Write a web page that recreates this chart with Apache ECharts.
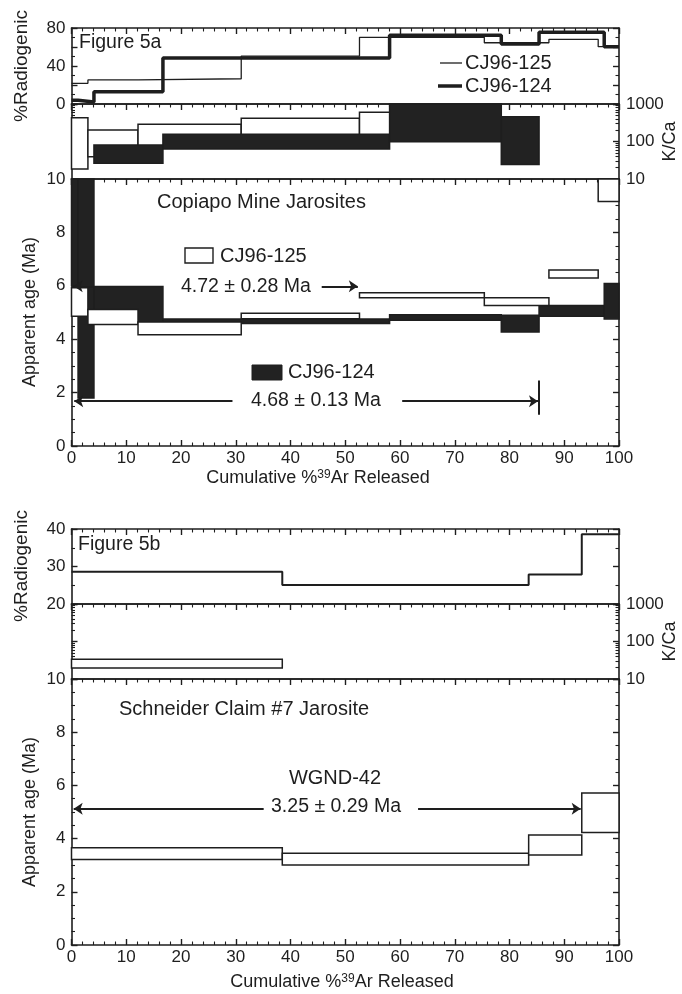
<!DOCTYPE html>
<html>
<head>
<meta charset="utf-8">
<script src="https://cdn.jsdelivr.net/npm/echarts@6/dist/echarts.min.js"></script>
<style>
  html, body { margin: 0; padding: 0; background: #fff; }
  #chart { width: 682px; height: 994px; }
</style>
</head>
<body>
<div id="chart"></div>
<script>
// Figure 5a, CJ96-125: step edges (cumulative %39Ar) and values per step
const stepsA125 = [0, 3.0, 12.15, 31.0, 52.6, 75.4, 87.2, 96.2, 100];
const ageA125Lo = [4.86, 4.55, 4.17, 4.77, 5.55, 5.26, 6.29, 9.16];
const ageA125Hi = [5.93, 5.11, 4.64, 4.97, 5.74, 5.55, 6.59, 12];
const radA125 = [21.8, 25.3, 26.6, 50.5, 70.2, 64.5, 68.1, 60.3];
const kcaA125Lo = [18.5, 39, 66, 120, 130, null, null, null];
const kcaA125Hi = [431, 203, 287, 415, 600, null, null, null];

// Figure 5a, CJ96-124
const stepsA124 = [0, 1.2, 4.1, 16.7, 58.1, 78.5, 85.4, 97.3, 100];
const ageA124Lo = [6.0, 1.8, 4.62, 4.59, 4.71, 4.27, 4.86, 4.76];
const ageA124Hi = [12, 12, 5.97, 4.76, 4.92, 4.90, 5.26, 6.09];
const radA124 = [4, 2, 13, 48.5, 72.5, 63.2, 75.5, 60.3];
const kcaA124Lo = [null, null, 26.2, 63, 99, 24.5, null, null];
const kcaA124Hi = [null, null, 80.7, 155, 1100, 458, null, null];

// Figure 5b, WGND-42
const stepsB = [0, 38.5, 83.5, 93.2, 100];
const ageBLo = [3.21, 3.01, 3.38, 4.23];
const ageBHi = [3.66, 3.45, 4.14, 5.71];
const radB = [28.6, 25.1, 27.9, 38.6];
const kcaBLo = [19.5, null, null, null];
const kcaBHi = [33.6, null, null, null];

// plateau arrows: [fromX, toX, age]
const arrowsA = [[4.1, 0.4, 5.98], [45.7, 52.3, 5.98], [29.4, 0.5, 1.68], [60.4, 85.2, 1.68]];
const plateauBarA = [85.4, 1.17, 2.45];
const arrowsB = [[35.1, 0.4, 5.12], [63.3, 93.0, 5.12]];

const xTicks = { min: 0, max: 100, interval: 10 };

const INK = '#1e1e1e';
const FONT = 'Liberation Sans, Arial, sans-serif';

function boxes(steps, lo, hi) {
  const out = [];
  for (let i = 0; i < lo.length; i++) {
    if (lo[i] == null) continue;
    out.push([steps[i], steps[i + 1], lo[i], hi[i]]);
  }
  return out;
}

function stepLine(steps, vals) {
  const out = [];
  vals.forEach((v, i) => { out.push([steps[i], v], [steps[i + 1], v]); });
  return out;
}

function boxRender(fill) {
  return function (params, api) {
    const a = api.coord([api.value(0), api.value(3)]);
    const b = api.coord([api.value(1), api.value(2)]);
    const cs = params.coordSys;
    const shape = echarts.graphic.clipRectByRect(
      { x: a[0], y: a[1], width: b[0] - a[0], height: b[1] - a[1] },
      { x: cs.x, y: cs.y, width: cs.width, height: cs.height }
    );
    return shape && { type: 'rect', shape: shape, style: { fill: fill, stroke: INK, lineWidth: 1.5 } };
  };
}

function boxSeries(g, data, fill) {
  return {
    type: 'custom', xAxisIndex: 2 * g, yAxisIndex: 2 * g, silent: true,
    renderItem: boxRender(fill), data: data,
    encode: { x: [0, 1], y: [2, 3] }
  };
}

function lineSeries(g, data, width) {
  return {
    type: 'line', xAxisIndex: 2 * g, yAxisIndex: 2 * g, data: data, symbol: 'none',
    silent: true, lineStyle: { color: INK, width: width }
  };
}

function arrowSeries(g, list) {
  return {
    type: 'lines', coordinateSystem: 'cartesian2d', xAxisIndex: 2 * g, yAxisIndex: 2 * g,
    symbol: ['none', 'arrow'], symbolSize: 9, silent: true,
    lineStyle: { color: INK, width: 2, opacity: 1 },
    data: list.map(a => ({ coords: [[a[0], a[2]], [a[1], a[2]]] }))
  };
}

const L = 71.5, W = 547.5;
const grids = [
  { left: L, width: W, top: 28, height: 76 },   // 5a %Radiogenic
  { left: L, width: W, top: 104, height: 75 },  // 5a K/Ca
  { left: L, width: W, top: 179, height: 267 }, // 5a age
  { left: L, width: W, top: 529, height: 75 },  // 5b %Radiogenic
  { left: L, width: W, top: 604, height: 75 },  // 5b K/Ca
  { left: L, width: W, top: 679, height: 266 }  // 5b age
];
const kinds = ['radA', 'kca', 'age', 'radB', 'kca', 'age'];

const axisLine = { show: true, onZero: false, lineStyle: { color: INK, width: 1.6 } };
const labelStyle = { color: INK, fontSize: 17, fontFamily: FONT };
const majorTick = { show: true, inside: true, length: 6, lineStyle: { color: INK, width: 1.4 } };
const minorTick = n => ({ show: true, splitNumber: n, length: 3.5, lineStyle: { color: INK, width: 1.1 } });

const xAxes = [], yAxes = [];
grids.forEach((g, i) => {
  const isAge = kinds[i] === 'age';
  ['bottom', 'top'].forEach(pos => {
    const ticks = pos === 'top' || isAge;
    xAxes.push(Object.assign({
      type: 'value', gridIndex: i, position: pos,
      axisLine: axisLine,
      axisTick: Object.assign({}, majorTick, { show: ticks }),
      minorTick: Object.assign(minorTick(5), { show: ticks }),
      splitLine: { show: false },
      axisLabel: Object.assign({ show: isAge && pos === 'bottom', margin: 4 }, labelStyle)
    }, xTicks));
  });
  ['left', 'right'].forEach(pos => {
    const k = kinds[i];
    const ax = {
      gridIndex: i, position: pos, axisLine: axisLine,
      axisTick: majorTick,
      splitLine: { show: false },
      axisLabel: Object.assign({ show: false, margin: pos === 'left' ? 6 : 7 }, labelStyle)
    };
    if (k === 'kca') {
      Object.assign(ax, { type: 'log', logBase: 10, min: 10, max: 1000 });
      ax.axisLabel.show = pos === 'right';
      ax.axisLabel.formatter = v => String(Math.round(v));
      ax.minorTick = minorTick(9);
    } else if (k === 'age') {
      Object.assign(ax, { type: 'value', min: 0, max: 10, interval: 2 });
      ax.axisLabel.show = pos === 'left';
      ax.minorTick = minorTick(4);
    } else if (k === 'radA') {
      Object.assign(ax, { type: 'value', min: 0, max: 80, interval: 20 });
      ax.axisLabel.show = pos === 'left';
      ax.axisLabel.formatter = v => (v % 40 === 0 ? String(v) : '');
      ax.minorTick = minorTick(2);
    } else {
      Object.assign(ax, { type: 'value', min: 20, max: 40, interval: 10 });
      ax.axisLabel.show = pos === 'left';
      ax.minorTick = minorTick(2);
    }
    yAxes.push(ax);
  });
});

const series = [
  // 5a %Radiogenic
  lineSeries(0, stepLine(stepsA125, radA125), 1.3),
  lineSeries(0, stepLine(stepsA124, radA124), 3.5),
  // 5a K/Ca: open boxes under filled ones
  boxSeries(1, boxes(stepsA125, kcaA125Lo, kcaA125Hi), '#fff'),
  boxSeries(1, boxes(stepsA124, kcaA124Lo, kcaA124Hi), '#222'),
  // 5a age: filled boxes under open ones
  boxSeries(2, boxes(stepsA124, ageA124Lo, ageA124Hi), '#222'),
  boxSeries(2, boxes(stepsA125, ageA125Lo, ageA125Hi), '#fff'),
  arrowSeries(2, arrowsA),
  {
    type: 'lines', coordinateSystem: 'cartesian2d', xAxisIndex: 4, yAxisIndex: 4, silent: true,
    lineStyle: { color: INK, width: 2, opacity: 1 },
    data: [{ coords: [[plateauBarA[0], plateauBarA[1]], [plateauBarA[0], plateauBarA[2]]] }]
  },
  // 5b
  lineSeries(3, stepLine(stepsB, radB), 2),
  boxSeries(4, boxes(stepsB, kcaBLo, kcaBHi), '#fff'),
  boxSeries(5, boxes(stepsB, ageBLo, ageBHi), '#fff'),
  arrowSeries(5, arrowsB)
];

function text(x, y, str, size, opt) {
  return {
    type: 'text', x: x, y: y, rotation: (opt && opt.rot) || 0, silent: true,
    style: Object.assign({
      text: str, fill: INK, font: size + 'px ' + FONT,
      align: (opt && opt.align) || 'left', verticalAlign: 'middle',
      textAlign: (opt && opt.align) || 'left', textVerticalAlign: 'middle'
    }, (opt && opt.style) || {})
  };
}

const supRich = { rich: { s: { fontSize: 12, fontFamily: FONT, fill: INK, verticalAlign: 'top', lineHeight: 18 } } };
const R90 = Math.PI / 2;

const graphics = [
  text(22, 66, '%Radiogenic', 19, { rot: R90, align: 'center' }),
  text(22, 566, '%Radiogenic', 19, { rot: R90, align: 'center' }),
  text(670, 141.5, 'K/Ca', 18, { rot: R90, align: 'center' }),
  text(670, 641.5, 'K/Ca', 18, { rot: R90, align: 'center' }),
  text(30, 312, 'Apparent age (Ma)', 18, { rot: R90, align: 'center' }),
  text(30, 812, 'Apparent age (Ma)', 18, { rot: R90, align: 'center' }),
  text(318, 478, 'Cumulative %{s|39}Ar Released', 18, { align: 'center', style: supRich }),
  text(342, 982, 'Cumulative %{s|39}Ar Released', 18, { align: 'center', style: supRich }),

  text(79, 43, 'Figure 5a', 19.5),
  { type: 'line', silent: true, shape: { x1: 440, y1: 63, x2: 462, y2: 63 }, style: { stroke: INK, lineWidth: 1.3 } },
  text(465, 63, 'CJ96-125', 20),
  { type: 'line', silent: true, shape: { x1: 438, y1: 86, x2: 462, y2: 86 }, style: { stroke: INK, lineWidth: 3.5 } },
  text(465, 86, 'CJ96-124', 20),

  text(157, 202, 'Copiapo Mine Jarosites', 20),
  { type: 'rect', silent: true, shape: { x: 185, y: 248, width: 28, height: 15 }, style: { fill: '#fff', stroke: INK, lineWidth: 1.4 } },
  text(220, 256, 'CJ96-125', 20),
  text(181, 287, '4.72 \u00b1 0.28 Ma', 19.5),
  { type: 'rect', silent: true, shape: { x: 252, y: 365, width: 30, height: 15 }, style: { fill: '#222', stroke: INK, lineWidth: 1 } },
  text(288, 372, 'CJ96-124', 20),
  text(251, 401, '4.68 \u00b1 0.13 Ma', 19.5),

  text(78, 545, 'Figure 5b', 19.5),
  text(119, 709, 'Schneider Claim #7 Jarosite', 20),
  text(335, 778, 'WGND-42', 20, { align: 'center' }),
  text(336, 807, '3.25 \u00b1 0.29 Ma', 19.5, { align: 'center' })
];

const chart = echarts.init(document.getElementById('chart'));
chart.setOption({
  animation: false,
  backgroundColor: '#fff',
  grid: grids,
  xAxis: xAxes,
  yAxis: yAxes,
  series: series,
  graphic: graphics
});
</script>
</body>
</html>
